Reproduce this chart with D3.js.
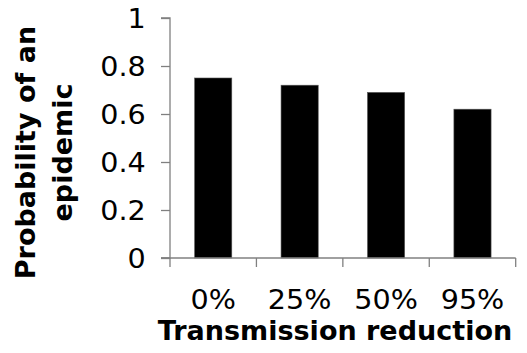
<!DOCTYPE html>
<html><head><meta charset="utf-8">
<script src="https://cdn.jsdelivr.net/npm/d3@7"></script>
<style>body{margin:0;background:#fff}svg{display:block}</style>
</head><body>
<script>
const categories = ["0%", "25%", "50%", "95%"];
const values = [0.75, 0.72, 0.69, 0.62];
const yTicks = [0, 0.2, 0.4, 0.6, 0.8, 1];
const xTitle = "Transmission reduction";
const yTitleLines = ["Probability of an", "epidemic"];

const W = 527, H = 353;
const svg = d3.select("body").append("svg").attr("width", W).attr("height", H);
const font = "DejaVu Sans, Verdana, sans-serif";

const x = d3.scaleBand().domain(categories).range([170, 515.7]).paddingInner(0.57).paddingOuter(0.285);
const y = d3.scaleLinear().domain([0, 1]).range([258, 18]);

// bars
svg.selectAll("rect.bar").data(values).enter().append("rect")
  .attr("class", "bar")
  .attr("x", (d, i) => x(categories[i]))
  .attr("y", d => y(d))
  .attr("width", x.bandwidth())
  .attr("height", d => y(0) - y(d))
  .attr("fill", "#000")
  .attr("stroke", "#555").attr("stroke-width", 0.6);

// y axis
const yAxis = d3.axisLeft(y).tickValues(yTicks).tickFormat(d3.format("")).tickSize(9).tickPadding(16);
const gy = svg.append("g").attr("transform", "translate(170,0)").call(yAxis);
gy.select(".domain").attr("stroke", "#808080").attr("stroke-width", 1.3).attr("d", "M-9,18H0V258H-9");
gy.selectAll(".tick line").attr("stroke", "#808080").attr("stroke-width", 1.3);
gy.selectAll(".tick text").attr("font-family", font).attr("font-size", 26).attr("fill", "#000")
  .attr("x", 0).attr("dy", "0.36em").attr("transform", "translate(-24.3,0) scale(1.1,1)");

// x axis (category boundary ticks)
const gx = svg.append("g");
gx.append("line").attr("x1", 161).attr("x2", 515.7).attr("y1", y(0)).attr("y2", y(0))
  .attr("stroke", "#808080").attr("stroke-width", 1.3);
gx.selectAll("line.t").data([170, ...categories.map((c, i) => 170 + x.step() * (i + 1))]).enter().append("line")
  .attr("class", "t")
  .attr("x1", d => d).attr("x2", d => d).attr("y1", y(0)).attr("y2", y(0) + 9)
  .attr("stroke", "#808080").attr("stroke-width", 1.3);
gx.selectAll("text").data(categories).enter().append("text")
  .attr("transform", d => `translate(${x(d) + x.bandwidth() / 2},309.3) scale(1.1,1)`)
  .attr("text-anchor", "middle").attr("font-family", font).attr("font-size", 26).attr("fill", "#000")
  .text(d => d);

// x title
svg.append("text").attr("x", 335).attr("y", 340).attr("text-anchor", "middle")
  .attr("font-family", font).attr("font-size", 27).attr("font-weight", "bold").attr("fill", "#000")
  .text(xTitle);

// y title
const yt = svg.append("text").attr("transform", "translate(35,152.5) rotate(-90)")
  .attr("text-anchor", "middle").attr("font-family", font).attr("font-size", 27).attr("font-weight", "bold").attr("fill", "#000");
yTitleLines.forEach((t, i) => {
  yt.append("tspan").attr("x", 0).attr("y", i * 37).text(t);
});
</script>
</body></html>
